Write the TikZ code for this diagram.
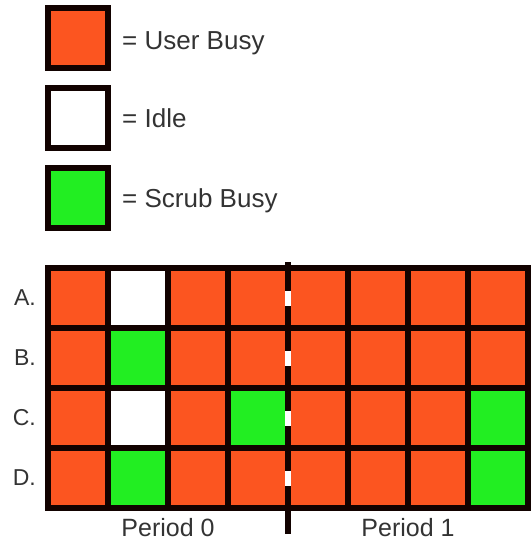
\documentclass[tikz,border=0pt]{standalone}
\usepackage{fontspec}
\setmainfont{Liberation Sans}
\usepackage{tikz}
\usetikzlibrary{positioning, calc}

\definecolor{userbusy}{RGB}{252,85,32}
\definecolor{scrubbusy}{RGB}{34,238,34}
\definecolor{idle}{RGB}{255,255,255}
\definecolor{gridline}{RGB}{18,2,0}
\definecolor{labeltext}{RGB}{51,51,51}

\begin{document}
\begin{tikzpicture}[
    x=1pt, y=-1pt,
    cell/.style={draw=gridline, line width=6pt, rectangle, minimum size=60pt, inner sep=0pt},
    keytext/.style={inner sep=0pt, text=labeltext, text height=18pt, text depth=0pt, font=\fontsize{26}{31}\selectfont},
    rowlabel/.style={inner sep=0pt, text=labeltext, font=\fontsize{23}{28}\selectfont},
    period/.style={inner sep=0pt, text=labeltext, text height=18pt, text depth=0pt, font=\fontsize{25}{30}\selectfont},
    divider/.style={draw=gridline, line width=6pt},
    gap/.style={draw=white, line width=6pt}
]
\useasboundingbox (0,0) rectangle (530,543);

% Legend
\node[cell, fill=userbusy] (key1) at (78,38) {};
\node[cell, fill=idle, below=14pt of key1] (key2) {};
\node[cell, fill=scrubbusy, below=14pt of key2] (key3) {};

\node[keytext, right=11pt of key1, yshift=-3pt] (text1) {= User Busy};
\node[keytext, right=11pt of key2] (text2) {= Idle};
\node[keytext, right=11pt of key3] (text3) {= Scrub Busy};

% Schedule grid
\foreach \r/\lbl/\cols in {
    1/A/{userbusy,idle,userbusy,userbusy,userbusy,userbusy,userbusy,userbusy},
    2/B/{userbusy,scrubbusy,userbusy,userbusy,userbusy,userbusy,userbusy,userbusy},
    3/C/{userbusy,idle,userbusy,scrubbusy,userbusy,userbusy,userbusy,scrubbusy},
    4/D/{userbusy,scrubbusy,userbusy,userbusy,userbusy,userbusy,userbusy,scrubbusy}}
{
    \foreach \c [count=\k] in \cols
        \node[cell, fill=\c] (cell-\r-\k) at (18+60*\k, 238+60*\r) {};
    \node[rowlabel, left=9pt of cell-\r-1] (row\lbl) {\lbl.};
}

% Period divider
\coordinate (divtop) at (288,262);
\coordinate (divbot) at (288,534);
\draw[divider] (divtop) -- (divbot);
\foreach \r in {1,...,4}
    \draw[gap] ($(cell-\r-4.east)+(-3,-7.5)$) -- ++(0,15);

% Period labels
\coordinate (p0) at ($(cell-4-2.south east)!0.5!(cell-4-3.south west)$);
\coordinate (p1) at ($(cell-4-6.south east)!0.5!(cell-4-7.south west)$);
\node[period, below=7pt of p0] (period0) {Period 0};
\node[period, below=7pt of p1] (period1) {Period 1};

\end{tikzpicture}
\end{document}
